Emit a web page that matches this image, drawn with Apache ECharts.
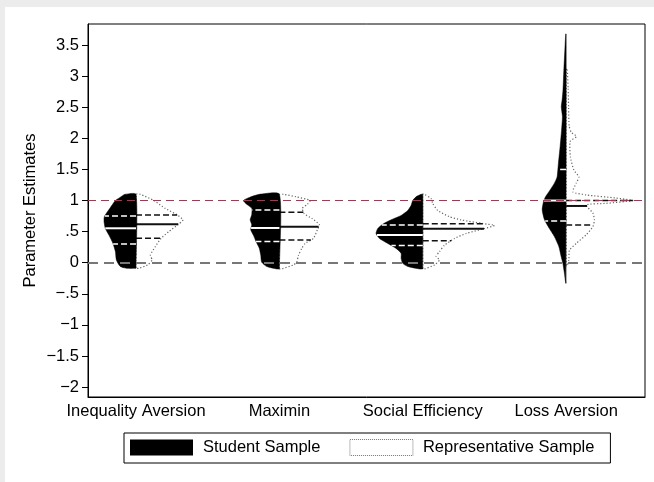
<!DOCTYPE html>
<html>
<head>
<meta charset="utf-8">
<script src="https://cdn.jsdelivr.net/npm/echarts@6/dist/echarts.min.js"></script>
<style>
    html, body { margin: 0; padding: 0; background: #ececec; }
    #chart { width: 654px; height: 482px; }
</style>
</head>
<body>
<div id="chart"></div>
<script>
    var categories = ['Inequality Aversion', 'Maximin', 'Social Efficiency', 'Loss Aversion'];
    var categoryPos = [1, 2, 3, 4];
    var yTicks = [-2, -1.5, -1, -0.5, 0, 0.5, 1, 1.5, 2, 2.5, 3, 3.5];
    var yTickLabels = ['−2', '−1.5', '−1', '−.5', '0', '.5', '1', '1.5', '2', '2.5', '3', '3.5'];
    var refLines = [0, 1];

    // violin outlines: [estimate, half width in x-axis units], top to bottom
    var studentIA = [[1.10, 0.077], [1.05, 0.112], [1.00, 0.144], [0.88, 0.181], [0.74, 0.221], [0.66, 0.223],
        [0.55, 0.214], [0.44, 0.188], [0.31, 0.161], [0.18, 0.144], [0.045, 0.137], [-0.06, 0.110], [-0.09, 0.063]];
    var studentMM = [[1.10, 0.140], [1.05, 0.209], [1.00, 0.251], [0.94, 0.228], [0.876, 0.193], [0.77, 0.193],
        [0.69, 0.204], [0.61, 0.193], [0.53, 0.200], [0.44, 0.181], [0.34, 0.163], [0.23, 0.140], [0.12, 0.130],
        [0.01, 0.124], [-0.06, 0.089], [-0.10, 0.019]];
    var studentSE = [[1.10, 0.012], [1.06, 0.047], [1.00, 0.070], [0.92, 0.082], [0.84, 0.105], [0.76, 0.151],
        [0.69, 0.221], [0.62, 0.279], [0.55, 0.314], [0.47, 0.326], [0.39, 0.302], [0.31, 0.244], [0.23, 0.186],
        [0.15, 0.151], [0.07, 0.151], [-0.01, 0.140], [-0.06, 0.105], [-0.10, 0.023]];
    var studentLA = [[3.68, 0.003], [3.42, 0.009], [3.10, 0.016], [2.78, 0.022], [2.62, 0.028], [2.51, 0.034],
        [2.35, 0.026], [2.13, 0.032], [1.87, 0.042], [1.60, 0.054], [1.38, 0.063], [1.28, 0.082], [1.17, 0.112],
        [1.06, 0.144], [0.98, 0.158], [0.85, 0.167], [0.69, 0.151], [0.55, 0.117], [0.42, 0.082], [0.26, 0.051],
        [0.10, 0.035], [-0.01, 0.023], [-0.17, 0.012], [-0.33, 0.003]];

    var repIA = [[1.10, 0.030], [1.00, 0.124], [0.876, 0.202], [0.77, 0.286], [0.69, 0.328], [0.61, 0.291],
        [0.50, 0.228], [0.39, 0.174], [0.26, 0.135], [0.12, 0.100], [0.045, 0.112], [-0.035, 0.082], [-0.09, 0.019]];
    var repMM = [[1.10, 0.028], [1.06, 0.119], [1.00, 0.214], [0.94, 0.195], [0.876, 0.160], [0.79, 0.172],
        [0.71, 0.228], [0.61, 0.279], [0.53, 0.265], [0.39, 0.237], [0.31, 0.179], [0.23, 0.156], [0.12, 0.133],
        [0.01, 0.121], [-0.035, 0.098], [-0.10, 0.016]];
    var repSE = [[1.10, 0.012], [1.03, 0.058], [0.95, 0.070], [0.84, 0.105], [0.74, 0.186], [0.69, 0.265],
        [0.63, 0.419], [0.60, 0.500], [0.55, 0.431], [0.47, 0.302], [0.39, 0.221], [0.28, 0.151], [0.18, 0.117],
        [0.10, 0.093], [0.045, 0.117], [-0.035, 0.082], [-0.10, 0.012]];
    var repLA = [[3.12, 0.007], [2.80, 0.014], [2.50, 0.017], [2.20, 0.021], [2.10, 0.035], [2.03, 0.072],
        [1.95, 0.028], [1.70, 0.030], [1.49, 0.054], [1.38, 0.089], [1.28, 0.070], [1.14, 0.047], [1.09, 0.140],
        [1.04, 0.349], [1.00, 0.465], [0.955, 0.279], [0.93, 0.140], [0.80, 0.186], [0.69, 0.197], [0.58, 0.186],
        [0.45, 0.140], [0.31, 0.070], [0.20, 0.023], [0.045, 0.019], [-0.05, 0.007]];

    // [lower quartile, median, upper quartile]
    var studentQuart = [[0.302, 0.554, 0.752], [0.34, 0.559, 0.848], [0.275, 0.447, 0.607], [0.67, 1.0, 1.50]];
    var repQuart = [[0.393, 0.618, 0.768], [0.366, 0.58, 0.81], [0.355, 0.548, 0.628], [0.607, 0.913, 1.0]];

    var studentShapes = [studentIA, studentMM, studentSE, studentLA];
    var repShapes = [repIA, repMM, repSE, repLA];

    var font = "'Liberation Sans', Arial, sans-serif";

    function widthAt(shape, v) {
        for (var i = 0; i < shape.length - 1; i++) {
            var a = shape[i], b = shape[i + 1];
            if (v <= a[0] && v >= b[0]) {
                var t = (a[0] - v) / (a[0] - b[0]);
                return a[1] + t * (b[1] - a[1]);
            }
        }
        return 0;
    }

    function drawHalf(shape, quart, side, api, fillStyle, lineColor) {
        var cx = api.value(0);
        var top = shape[0][0], bottom = shape[shape.length - 1][0];
        var pts = [api.coord([cx, bottom + 0.01]), api.coord([cx, top])];
        shape.forEach(function (p) {
            pts.push(api.coord([cx + side * p[1], p[0]]));
        });
        pts.push(api.coord([cx, bottom]));
        var children = [{
            type: 'polygon',
            shape: { points: pts, smooth: 0.2 },
            style: fillStyle
        }];
        quart.forEach(function (q, k) {
            var w = widthAt(shape, q);
            var a = api.coord([cx, q]);
            var b = api.coord([cx + side * w, q]);
            children.push({
                type: 'line',
                shape: { x1: a[0], y1: a[1], x2: b[0], y2: b[1] },
                style: {
                    stroke: lineColor,
                    lineWidth: k === 1 ? 2 : 1.5,
                    lineDash: k === 1 ? null : [6, 3]
                }
            });
        });
        return { type: 'group', children: children };
    }

    var chart = echarts.init(document.getElementById('chart'));

    var option = {
        backgroundColor: '#ececec',
        animation: false,
        textStyle: { fontFamily: font },
        graphic: [{
            type: 'rect',
            z: -10,
            shape: { x: 5, y: 7, width: 649, height: 475 },
            style: { fill: '#fff' }
        }],
        grid: {
            left: 88, right: 9, top: 24, bottom: 85,
            show: true, borderColor: '#000', borderWidth: 1, backgroundColor: '#fff'
        },
        legend: {
            left: 124, top: 433,
            padding: [6, 16, 7, 6],
            itemGap: 29, itemWidth: 63, itemHeight: 16,
            borderColor: '#000', borderWidth: 1,
            selectedMode: false,
            textStyle: { fontSize: 16.5, color: '#000', fontFamily: font, padding: [0, 0, 0, 5] },
            data: [
                { name: 'Student Sample', icon: 'rect', itemStyle: { color: '#000' } },
                { name: 'Representative Sample', icon: 'rect',
                  itemStyle: { color: '#fff', borderColor: '#777', borderWidth: 1, borderType: 'dotted' } }
            ]
        },
        xAxis: {
            type: 'value', min: 0.665, max: 4.55,
            axisLine: { show: true, onZero: false, lineStyle: { color: '#000' } },
            axisTick: { show: false },
            splitLine: { show: false },
            axisLabel: {
                customValues: categoryPos,
                formatter: function (v) { return categories[Math.round(v) - 1]; },
                fontSize: 16.5, color: '#000', margin: 6, fontFamily: font
            }
        },
        yAxis: {
            type: 'value', min: -2.16, max: 3.84,
            name: 'Parameter Estimates', nameLocation: 'middle', nameGap: 49, nameMoveOverlap: false,
            nameTextStyle: { fontSize: 16.5, color: '#000', fontFamily: font },
            axisLine: { show: true, lineStyle: { color: '#000' } },
            axisTick: { show: true, length: 6, customValues: yTicks, lineStyle: { color: '#000' } },
            splitLine: { show: false },
            axisLabel: {
                customValues: yTicks,
                formatter: function (v) {
                    for (var i = 0; i < yTicks.length; i++) {
                        if (Math.abs(yTicks[i] - v) < 1e-6) return yTickLabels[i];
                    }
                    return '';
                },
                fontSize: 16.5, color: '#000', margin: 9, fontFamily: font
            }
        },
        series: [
            {
                name: 'refs',
                type: 'line',
                z: 1,
                data: [],
                markLine: {
                    silent: true,
                    symbol: 'none',
                    label: { show: false },
                    data: [
                        { yAxis: refLines[0], lineStyle: { color: '#777', width: 2, type: [10, 6] } },
                        { yAxis: refLines[1], lineStyle: { color: '#d4204c', width: 1, type: [8, 5] } }
                    ]
                }
            },
            {
                name: 'Representative Sample',
                type: 'custom',
                z: 3,
                itemStyle: { color: '#fff', borderColor: '#777', borderType: 'dotted' },
                encode: { x: 0, y: [1, 2] },
                data: categoryPos.map(function (x, i) {
                    return [x, repShapes[i][repShapes[i].length - 1][0], repShapes[i][0][0]];
                }),
                renderItem: function (params, api) {
                    var i = params.dataIndex;
                    return drawHalf(repShapes[i], repQuart[i], 1, api,
                        { fill: '#fff', stroke: '#666', lineWidth: 1.2, lineDash: [1.2, 2] }, '#111');
                }
            },
            {
                name: 'Student Sample',
                type: 'custom',
                z: 4,
                itemStyle: { color: '#000' },
                encode: { x: 0, y: [1, 2] },
                data: categoryPos.map(function (x, i) {
                    return [x, studentShapes[i][studentShapes[i].length - 1][0], studentShapes[i][0][0]];
                }),
                renderItem: function (params, api) {
                    var i = params.dataIndex;
                    return drawHalf(studentShapes[i], studentQuart[i], -1, api,
                        { fill: '#000', stroke: '#000', lineWidth: 0.5 }, '#fff');
                }
            }
        ]
    };

    chart.setOption(option);
</script>
</body>
</html>
